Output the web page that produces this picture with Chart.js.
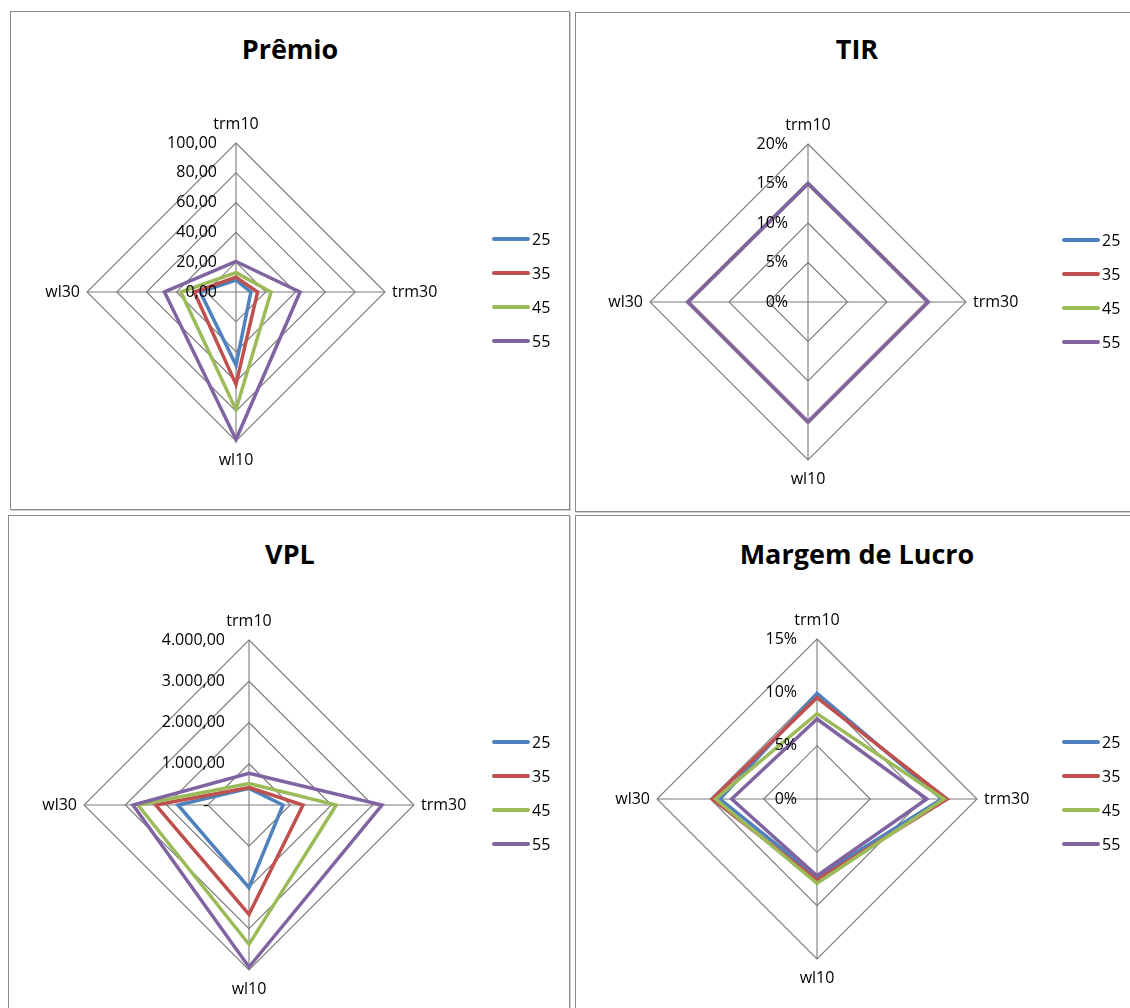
<!DOCTYPE html>
<html>
<head>
<meta charset="utf-8">
<script src="https://cdn.jsdelivr.net/npm/chart.js@4.4.0/dist/chart.umd.min.js"></script>
<style>
body { margin: 0; background: #fff; width: 1130px; height: 1008px; overflow: hidden; position: relative; font-family: "Open Sans", sans-serif; }
.panel { position: absolute; border: 1px solid #8a8a8a; box-shadow: 1px 1px 0 #cfcfcf; box-sizing: border-box; background: #fff; }
.title { position: absolute; font-weight: bold; font-size: 27px; transform: translate(-50%, -50%); white-space: nowrap; color: #000; }
canvas { position: absolute; }
.legend { position: absolute; font-size: 16px; color: #000; }
.legend div { height: 34px; display: flex; align-items: center; }
.legend .ln { width: 38px; height: 4px; border-radius: 2px; margin-right: 2px; display: inline-block; }
</style>
</head>
<body>
<script>
// axes + series
const axisLabels = ['trm10', 'trm30', 'wl10', 'wl30'];
const seriesNames = ['25', '35', '45', '55'];
const seriesColors = ['#4F81BD', '#C0504D', '#9BBB59', '#8064A2'];

// Prêmio (one row per series, in axis order)
const premio25 = [8, 10, 49, 24];
const premio35 = [10, 14.5, 62, 28];
const premio45 = [13, 23.5, 79, 37];
const premio55 = [20.5, 43, 99, 48];
const premioTicks = ['0,00', '20,00', '40,00', '60,00', '80,00', '100,00'];

// TIR (%)
const tir25 = [15, 15.2, 15.2, 15.2];
const tir35 = [15, 15.2, 15.2, 15.2];
const tir45 = [15, 15.2, 15.2, 15.2];
const tir55 = [15, 15.2, 15.2, 15.2];
const tirTicks = ['0%', '5%', '10%', '15%', '20%'];

// VPL
const vpl25 = [404, 824, 2004, 1721];
const vpl35 = [425, 1309, 2650, 2263];
const vpl45 = [520, 2117, 3378, 2691];
const vpl55 = [768, 3224, 3927, 2812];
const vplTicks = ['-    ', '1.000,00', '2.000,00', '3.000,00', '4.000,00'];

// Margem de Lucro (%)
const margem25 = [9.9, 11.7, 7.3, 9.1];
const margem35 = [9.5, 12.2, 7.6, 9.8];
const margem45 = [8.0, 11.9, 7.9, 9.5];
const margem55 = [7.5, 10.3, 7.2, 8.0];
const margemTicks = ['0%', '5%', '10%', '15%'];

const panels = [
  { title: 'Prêmio', x: 10, y: 11, w: 560, h: 499, cx: 236, cy: 292, r: 149, max: 100, step: 20, gap: 19,
    tx: 290, ty: 48, lx: 492, ly: 239, values: [premio25, premio35, premio45, premio55], ticks: premioTicks },
  { title: 'TIR', x: 575, y: 12, w: 565, h: 500, cx: 808, cy: 302, r: 158, max: 20, step: 5, gap: 20,
    tx: 857, ty: 48, lx: 1062, ly: 240, values: [tir25, tir35, tir45, tir55], ticks: tirTicks },
  { title: 'VPL', x: 8, y: 515, w: 562, h: 500, cx: 249, cy: 805, r: 165, max: 4000, step: 1000, gap: 24,
    tx: 290, ty: 553, lx: 492, ly: 742, values: [vpl25, vpl35, vpl45, vpl55], ticks: vplTicks },
  { title: 'Margem de Lucro', x: 575, y: 515, w: 565, h: 500, cx: 817, cy: 799, r: 160, max: 15, step: 5, gap: 20,
    tx: 857, ty: 553, lx: 1062, ly: 742, values: [margem25, margem35, margem45, margem55], ticks: margemTicks }
];

// tick + axis labels, Excel style (ticks left of the vertical axis)
function labelPlugin(p) {
  return {
    id: 'excelLabels',
    afterDraw(chart) {
      const s = chart.scales.r;
      const ctx = chart.ctx;
      ctx.save();
      ctx.font = '16px "Open Sans"';
      ctx.fillStyle = '#000';
      ctx.textBaseline = 'middle';
      ctx.textAlign = 'right';
      s.ticks.forEach((t, i) => {
        const pos = s.getPointPositionForValue(0, t.value);
        ctx.fillText(p.ticks[i], pos.x - p.gap, pos.y);
      });
      axisLabels.forEach((lab, i) => {
        const pos = s.getPointPosition(i, s.drawingArea + (i % 2 ? 7 : 19));
        ctx.textAlign = i === 1 ? 'left' : (i === 3 ? 'right' : 'center');
        ctx.fillText(lab, pos.x, pos.y);
      });
      ctx.restore();
    }
  };
}

function makePanel(p) {
  const box = document.createElement('div');
  box.className = 'panel';
  box.style.left = p.x + 'px';
  box.style.top = p.y + 'px';
  box.style.width = p.w + 'px';
  box.style.height = p.h + 'px';
  document.body.appendChild(box);

  const title = document.createElement('div');
  title.className = 'title';
  title.style.left = p.tx + 'px';
  title.style.top = p.ty + 'px';
  title.textContent = p.title;
  document.body.appendChild(title);

  const canvas = document.createElement('canvas');
  canvas.width = p.w;
  canvas.height = p.h;
  canvas.style.left = p.x + 'px';
  canvas.style.top = p.y + 'px';
  document.body.appendChild(canvas);

  new Chart(canvas, {
    type: 'radar',
    data: {
      labels: axisLabels,
      datasets: p.values.map((vals, i) => ({
        label: seriesNames[i],
        data: vals,
        borderColor: seriesColors[i],
        borderWidth: 3.5,
        pointRadius: 0,
        fill: false,
        order: 3 - i
      }))
    },
    options: {
      responsive: false,
      animation: false,
      layout: {
        padding: {
          left: p.cx - p.r - p.x,
          top: p.cy - p.r - p.y,
          right: p.x + p.w - p.cx - p.r,
          bottom: p.y + p.h - p.cy - p.r
        }
      },
      plugins: { legend: { display: false }, tooltip: { enabled: false } },
      scales: {
        r: {
          min: 0,
          max: p.max,
          ticks: { display: false, stepSize: p.step },
          pointLabels: { display: false },
          grid: { color: '#7a7a7a', lineWidth: 1.1 },
          angleLines: { color: '#7a7a7a', lineWidth: 1.1 }
        }
      }
    },
    plugins: [labelPlugin(p)]
  });

  // legend
  const leg = document.createElement('div');
  leg.className = 'legend';
  leg.style.left = p.lx + 'px';
  leg.style.top = (p.ly - 17) + 'px';
  seriesNames.forEach((name, i) => {
    const row = document.createElement('div');
    row.innerHTML = '<span class="ln" style="background:' + seriesColors[i] + '"></span>' + name;
    leg.appendChild(row);
  });
  document.body.appendChild(leg);
}

panels.forEach(makePanel);
</script>
</body>
</html>
